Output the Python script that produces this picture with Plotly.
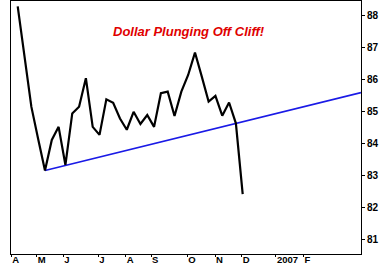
import plotly.graph_objects as go

# Weekly closing values (week index 0..33)
week = list(range(34))
dollar = [88.28, 86.70, 85.15, 84.14, 83.16, 84.11, 84.52, 83.33, 84.94, 85.15,
          86.04, 84.52, 84.27, 85.38, 85.27, 84.78, 84.43, 84.99, 84.61, 84.89,
          84.52, 85.57, 85.62, 84.86, 85.62, 86.14, 86.84, 86.09, 85.31, 85.49,
          84.87, 85.28, 84.63, 82.42]

# Support trend line
trend_x = [4, 50.35]
trend_y = [83.16, 85.59]

# Month ticks (positions in week-index units)
tick_pos = [-0.95, 2.79, 6.69, 11.82, 15.84, 19.55, 24.87, 28.94, 32.85, 37.88, 41.9]
tick_text = ["A", "M", "J", "J", "A", "S", "O", "N", "D", "2007", "F"]

y_ticks = [81, 82, 83, 84, 85, 86, 87, 88]

fig = go.Figure()
fig.add_trace(go.Scatter(x=trend_x, y=trend_y, mode="lines",
                         line=dict(color="#1a1ae6", width=1.6), hoverinfo="skip"))
fig.add_trace(go.Scatter(x=week, y=dollar, mode="lines",
                         line=dict(color="black", width=2.2), hoverinfo="skip"))

fig.add_annotation(text="<b><i>Dollar Plunging Off Cliff!</i></b>",
                   xref="paper", yref="paper", x=0.508, y=0.881,
                   xanchor="center", yanchor="middle", showarrow=False,
                   font=dict(family="Liberation Sans, Arial, sans-serif", size=13, color="#e00000"))

tick_font = dict(family="Liberation Sans, Arial, sans-serif", size=10, color="black", weight="bold")
x_tick_font = dict(family="Liberation Sans, Arial, sans-serif", size=9.5, color="black", weight="bold")

fig.update_layout(
    width=380, height=266,
    margin=dict(l=11, r=19, t=1, b=12),
    paper_bgcolor="white", plot_bgcolor="white",
    showlegend=False,
    xaxis=dict(range=[-0.983, 50.35], tickmode="array", tickvals=tick_pos, ticktext=tick_text,
               ticks="outside", ticklen=2, tickcolor="black", tickwidth=1,
               ticklabelposition="outside right", tickfont=x_tick_font, automargin=False,
               ticklabelstandoff=-3,
               showgrid=False, zeroline=False, showline=True, linecolor="black",
               linewidth=1, mirror=True, fixedrange=True),
    yaxis=dict(range=[80.55, 88.45], side="right", tickmode="array", tickvals=y_ticks,
               ticks="outside", ticklen=3, tickcolor="black", tickwidth=1,
               tickfont=tick_font, automargin=False,
               showgrid=False, zeroline=False, showline=True, linecolor="black",
               linewidth=1, mirror=True, fixedrange=True),
)

fig.write_html("out.html")
